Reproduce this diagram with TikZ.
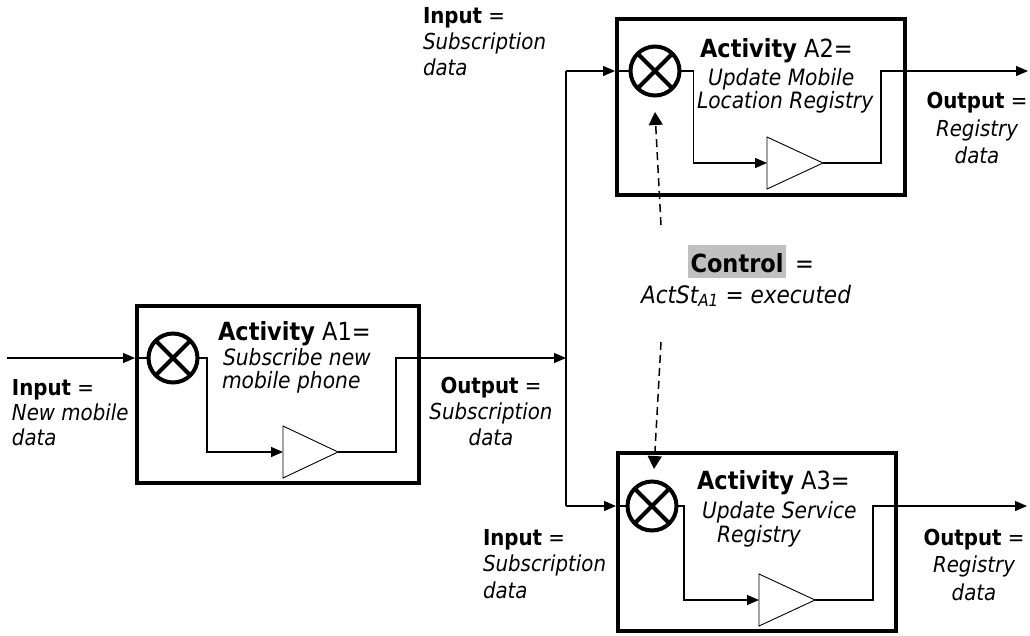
\documentclass[tikz,border=0pt]{standalone}
\usepackage{fontspec}
\setmainfont{DejaVu Sans}[FakeStretch=0.9]
\usetikzlibrary{arrows.meta,calc}
\definecolor{ctlgray}{RGB}{192,192,192}
\newcommand\ttlfont{\fontsize{25}{29}\selectfont}
\newcommand\subfont{\fontsize{22.5}{26}\selectfont\itshape}
\newcommand\labfont{\fontsize{22}{26}\selectfont}
\begin{document}
\begin{tikzpicture}[x=1pt,y=-1pt,
  abox/.style={draw,line width=4pt,inner sep=0pt},
  act/.style={circle,draw,line width=4pt,minimum size=49pt,inner sep=0pt,outer sep=0pt},
  actx/.style={line width=4pt},
  conn/.style={line width=1.3pt},
  arr/.style={-{Triangle[length=12pt,width=10pt]}},
  tri/.style={line width=0.9pt,line join=miter},
  ctl/.style={line width=1.5pt,dash pattern=on 8pt off 5pt,-{Triangle[length=13pt,width=14pt]}},
  txt/.style={inner sep=0pt,outer sep=0pt,anchor=base west},
  txtc/.style={inner sep=0pt,outer sep=0pt,anchor=base}]
\useasboundingbox (0,0) rectangle (1030,635);

% boxes
\node[abox,minimum width=282pt,minimum height=177pt] (b1) at (278,394.5) {};
\node[abox,minimum width=288pt,minimum height=176pt] (b2) at (761,107) {};
\node[abox,minimum width=278pt,minimum height=178pt] (b3) at (757,542) {};

% activity circles
\node[act] (c1) at (173,358) {};
\node[act] (c2) at (655,71) {};
\node[act] (c3) at (652,506) {};
\foreach \c in {c1,c2,c3}{
  \draw[actx] (\c.45) -- (\c.225);
  \draw[actx] (\c.135) -- (\c.315);
}

% triangles
\coordinate (t1in) at (283,452); \coordinate (t1out) at (338,452);
\coordinate (t2in) at (767,163); \coordinate (t2out) at (823,163);
\coordinate (t3in) at (759,600); \coordinate (t3out) at (815,600);
\foreach \t in {t1,t2,t3}{
  \draw[tri] ($(\t in)+(0,-26)$) -- (\t out) -- ($(\t in)+(0,26)$) -- cycle;
}

% A1 connectors
\coordinate (s1) at (7,358);
\coordinate (o1) at (396,358);
\coordinate (j1) at (566,358);
\draw[conn,arr] (s1) -- (s1 -| b1.west);
\draw[conn] (s1 -| b1.west) -- (c1.west);
\draw[conn,arr] (c1.east) -- ++(9.5,0) |- (t1in);
\draw[conn,arr] (t1out) -| (o1) -- (j1);

% bus
\coordinate (jt) at (566,71);
\coordinate (jb) at (566,506);
\draw[conn] (jt) -- (jb);

% A2 connectors
\coordinate (o2) at (881,71);
\coordinate (e2) at (1028,71);
\draw[conn,arr] (jt) -- (jt -| b2.west);
\draw[conn] (jt -| b2.west) -- (c2.west);
\draw[conn,arr] (c2.east) -- ++(14,0) |- (t2in);
\draw[conn,arr] (t2out) -| (o2) -- (e2);

% A3 connectors
\coordinate (o3) at (873,506);
\coordinate (e3) at (1027,506);
\draw[conn,arr] (jb) -- (jb -| b3.west);
\draw[conn] (jb -| b3.west) -- (c3.west);
\draw[conn,arr] (c3.east) -- ++(7.5,0) |- (t3in);
\draw[conn,arr] (t3out) -| (o3) -- (e3);

% control
\node[txt,fill=ctlgray,text height=21pt,text depth=0pt,inner ysep=6pt,inner xsep=2.5pt] (ctla) at (688,272) {\ttlfont\bfseries Control};
\node[txt] (ctlb) at (795,272) {\ttlfont =};
\node[txt] (ctlc) at (641,303) {\fontsize{24}{28}\selectfont\itshape ActSt\textsubscript{A1} = executed};
\coordinate (d1s) at (661,225); \coordinate (d1e) at (655,112);
\coordinate (d2s) at (661,342); \coordinate (d2e) at (654,469);
\draw[ctl] (d1s) -- (d1e);
\draw[ctl] (d2s) -- (d2e);

% activity texts
\node[txt] (t1a) at (218,340) {\ttlfont\textbf{Activity} A1=};
\node[txt] (t1b) at (223,365) {\subfont Subscribe new};
\node[txt] (t1c) at (222,388) {\subfont mobile phone};
\node[txt] (t2a) at (700,57.5) {\ttlfont\textbf{Activity} A2=};
\node[txt] (t2b) at (708,85) {\subfont Update Mobile};
\node[txt] (t2c) at (697,108) {\subfont Location Registry};
\node[txt] (t3a) at (697,489.5) {\ttlfont\textbf{Activity} A3=};
\node[txt] (t3b) at (702,518) {\subfont Update Service};
\node[txt] (t3c) at (717,542) {\subfont Registry};

% input / output labels
\node[txt] (in1a) at (12,395) {\labfont\textbf{Input} =};
\node[txt] (in1b) at (12,420) {\labfont\itshape New mobile};
\node[txt] (in1c) at (12,445) {\labfont\itshape data};
\node[txtc] (ou1a) at (491,393) {\labfont\textbf{Output} =};
\node[txtc] (ou1b) at (491,419) {\labfont\itshape Subscription};
\node[txtc] (ou1c) at (491,445) {\labfont\itshape data};
\node[txt] (in2a) at (423,23) {\labfont\textbf{Input} =};
\node[txt] (in2b) at (423,49) {\labfont\itshape Subscription};
\node[txt] (in2c) at (423,75) {\labfont\itshape data};
\node[txtc] (ou2a) at (977,108) {\labfont\textbf{Output} =};
\node[txtc] (ou2b) at (977,136) {\labfont\itshape Registry};
\node[txtc] (ou2c) at (977,163) {\labfont\itshape data};
\node[txt] (in3a) at (483,545) {\labfont\textbf{Input} =};
\node[txt] (in3b) at (483,571) {\labfont\itshape Subscription};
\node[txt] (in3c) at (483,598) {\labfont\itshape data};
\node[txtc] (ou3a) at (974,545) {\labfont\textbf{Output} =};
\node[txtc] (ou3b) at (974,572) {\labfont\itshape Registry};
\node[txtc] (ou3c) at (974,600) {\labfont\itshape data};
\end{tikzpicture}
\end{document}
